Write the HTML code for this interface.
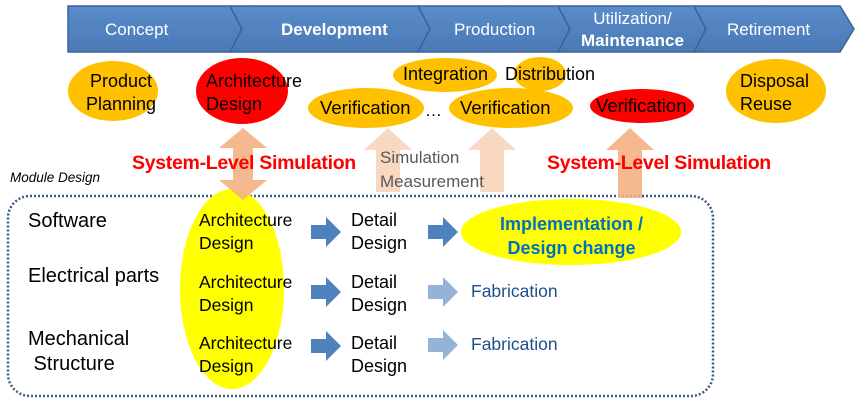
<!DOCTYPE html>
<html><head><style>
body{margin:0;width:857px;height:400px;background:#fff;overflow:hidden;position:relative;font-family:"Liberation Sans",sans-serif}
.t{position:absolute;white-space:nowrap;line-height:1}
</style></head><body>
<svg width="857" height="400" style="position:absolute;left:0;top:0">
<defs><linearGradient id="g" x1="0" y1="0" x2="0" y2="1"><stop offset="0" stop-color="#5a8ccb"/><stop offset="1" stop-color="#4a79b5"/></linearGradient></defs>
<g fill="url(#g)" stroke="#3b6496" stroke-width="1.5">
<polygon points="68,6 230,6 242,29 230,52 68,52"/>
<polygon points="230,6 418,6 430,29 418,52 230,52 242,29"/>
<polygon points="418,6 558,6 570,29 558,52 418,52 430,29"/>
<polygon points="558,6 694,6 706,29 694,52 558,52 570,29"/>
<polygon points="694,6 840,6 854,29 840,52 694,52 706,29"/>
</g>
<ellipse cx="113" cy="91" rx="45" ry="30" fill="#ffc000"/>
<ellipse cx="242" cy="91" rx="46" ry="33" fill="#ff0000"/>
<ellipse cx="445" cy="75" rx="52" ry="17" fill="#ffc000"/>
<ellipse cx="540" cy="74" rx="26" ry="17" fill="#ffc000"/>
<ellipse cx="366" cy="108" rx="58" ry="20" fill="#ffc000"/>
<ellipse cx="511" cy="108" rx="62" ry="20" fill="#ffc000"/>
<ellipse cx="642" cy="106" rx="52" ry="17" fill="#ff0000"/>
<ellipse cx="776" cy="91" rx="50" ry="32" fill="#ffc000"/>
<rect x="8" y="196" width="705" height="200" rx="22" fill="none" stroke="#3b5a85" stroke-width="2.5" stroke-dasharray="2,2"/>
<ellipse cx="232" cy="289" rx="52" ry="100" fill="#ffff00"/>
<ellipse cx="571" cy="232" rx="110" ry="33" fill="#ffff00"/>
<polygon points="243,128 267,148 253,148 253,180 267,180 243,200 219,180 233,180 233,148 219,148" fill="#f4b183" opacity="0.9"/>
<polygon points="388,128 412,150 400,150 400,192 376,192 376,150 364,150" fill="#f4b183" opacity="0.5"/>
<polygon points="492,128 516,150 504,150 504,192 480,192 480,150 468,150" fill="#f4b183" opacity="0.5"/>
<polygon points="630,128 654,150 642,150 642,198 618,198 618,150 606,150" fill="#f4b183" opacity="0.9"/>
<g fill="#4f81bd">
<polygon points="311,225 326,225 326,217 341,232 326,247 326,239 311,239"/>
<polygon points="311,285 326,285 326,277 341,292 326,307 326,299 311,299"/>
<polygon points="311,339 326,339 326,331 341,346 326,361 326,353 311,353"/>
<polygon points="428,225 443,225 443,217 458,232 443,247 443,239 428,239"/>
</g>
<g fill="#95b3d7">
<polygon points="428,285 443,285 443,277 458,292 443,307 443,299 428,299"/>
<polygon points="428,338 443,338 443,330 458,345 443,360 443,352 428,352"/>
</g>
</svg>
<div class="t" style="left:105px;top:21px;color:#fff;font-size:17px">Concept</div>
<div class="t" style="left:281px;top:21px;color:#fff;font-size:17px;font-weight:bold">Development</div>
<div class="t" style="left:454px;top:21px;color:#fff;font-size:17px">Production</div>
<div class="t" style="left:581px;top:8px;color:#fff;font-size:17px;text-align:center;line-height:22px">Utilization/<br><b>Maintenance</b></div>
<div class="t" style="left:727px;top:21px;color:#fff;font-size:17px">Retirement</div>
<div class="t" style="left:86px;top:70px;font-size:18px;text-align:center;line-height:23px">Product<br>Planning</div>
<div class="t" style="left:206px;top:70px;font-size:18px;line-height:23px">Architecture<br>Design</div>
<div class="t" style="left:403px;top:65px;font-size:18px">Integration</div>
<div class="t" style="left:505px;top:65px;font-size:18px">Distribution</div>
<div class="t" style="left:320px;top:99px;font-size:18.5px">Verification</div>
<div class="t" style="left:425px;top:102px;font-size:17px">…</div>
<div class="t" style="left:460px;top:99px;font-size:18.5px">Verification</div>
<div class="t" style="left:596px;top:97px;font-size:18.5px">Verification</div>
<div class="t" style="left:740px;top:70px;font-size:18px;line-height:23px">Disposal<br>Reuse</div>
<div class="t" style="left:132px;top:154px;color:#ff0000;font-size:19.5px;font-weight:bold;letter-spacing:-0.3px">System-Level Simulation</div>
<div class="t" style="left:547px;top:154px;color:#ff0000;font-size:19.5px;font-weight:bold;letter-spacing:-0.3px">System-Level Simulation</div>
<div class="t" style="left:380px;top:146px;color:#595959;font-size:17px;line-height:24px">Simulation<br>Measurement</div>
<div class="t" style="left:10px;top:171px;font-size:13.5px;font-style:italic">Module Design</div>
<div class="t" style="left:28px;top:211px;font-size:20px">Software</div>
<div class="t" style="left:28px;top:266px;font-size:20px">Electrical parts</div>
<div class="t" style="left:28px;top:327px;font-size:20px;line-height:25px">Mechanical<br>&nbsp;Structure</div>
<div class="t" style="left:199px;top:209px;font-size:17.5px;line-height:23px">Architecture<br>Design</div>
<div class="t" style="left:199px;top:271px;font-size:17.5px;line-height:23px">Architecture<br>Design</div>
<div class="t" style="left:199px;top:332px;font-size:17.5px;line-height:23px">Architecture<br>Design</div>
<div class="t" style="left:351px;top:209px;font-size:18px;line-height:23px">Detail<br>Design</div>
<div class="t" style="left:351px;top:271px;font-size:18px;line-height:23px">Detail<br>Design</div>
<div class="t" style="left:351px;top:332px;font-size:18px;line-height:23px">Detail<br>Design</div>
<div class="t" style="left:500px;top:212px;color:#0070c0;font-size:18px;font-weight:bold;text-align:center;line-height:24px">Implementation /<br>Design change</div>
<div class="t" style="left:471px;top:283px;color:#1f4e8c;font-size:17.5px">Fabrication</div>
<div class="t" style="left:471px;top:336px;color:#1f4e8c;font-size:17.5px">Fabrication</div>
</body></html>
